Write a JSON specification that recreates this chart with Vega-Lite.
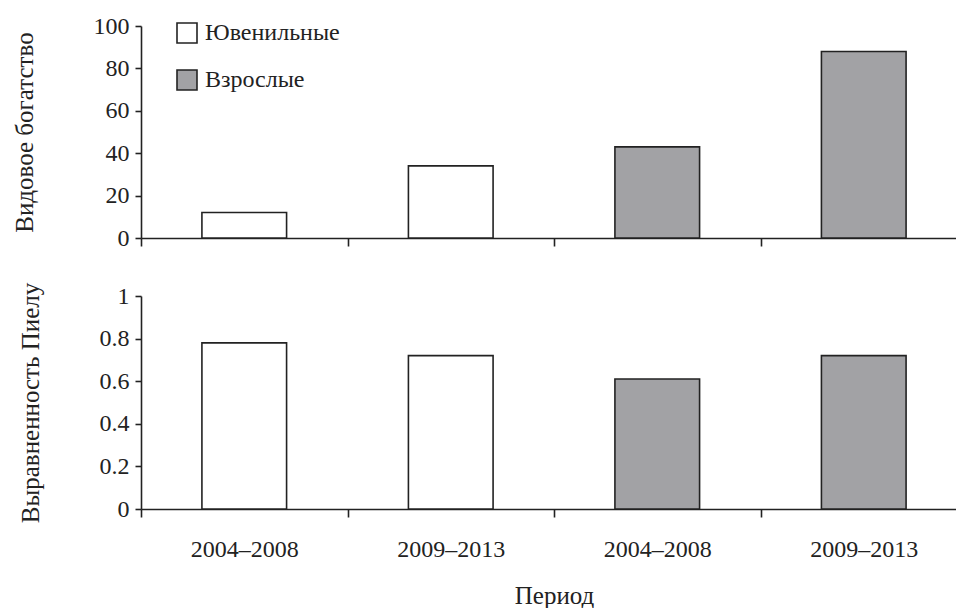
{
  "$schema": "https://vega.github.io/schema/vega-lite/v6.json",
  "background": "white",
  "padding": {"top": 14, "left": 12, "right": 0, "bottom": 0},
  "config": {
    "font": "Liberation Serif",
    "view": {"stroke": null},
    "axis": {
      "labelFont": "Liberation Serif",
      "titleFont": "Liberation Serif",
      "labelFontSize": 24,
      "titleFontSize": 25,
      "titleFontWeight": "normal",
      "labelColor": "#222",
      "titleColor": "#222",
      "domainColor": "#222",
      "tickColor": "#222",
      "domainWidth": 1.6,
      "tickWidth": 1.6,
      "grid": false
    },
    "legend": {
      "labelFont": "Liberation Serif",
      "labelFontSize": 24,
      "labelColor": "#222"
    }
  },
  "data": {
    "values": [
      {"cat": 1, "group": "Ювенильные", "richness": 12, "evenness": 0.78},
      {"cat": 2, "group": "Ювенильные", "richness": 34, "evenness": 0.72},
      {"cat": 3, "group": "Взрослые", "richness": 43, "evenness": 0.61},
      {"cat": 4, "group": "Взрослые", "richness": 88, "evenness": 0.72}
    ]
  },
  "spacing": 32,
  "vconcat": [
    {
      "width": 826,
      "height": 212,
      "mark": {"type": "bar", "stroke": "#222", "strokeWidth": 1.6, "width": {"band": 0.41}},
      "encoding": {
        "x": {
          "field": "cat", "type": "ordinal",
          "scale": {"paddingInner": 0, "paddingOuter": 0},
          "axis": {"title": null, "labels": false, "tickBand": "extent", "tickSize": 8}
        },
        "y": {
          "field": "richness", "type": "quantitative",
          "scale": {"domain": [0, 100]},
          "axis": {"title": "Видовое богатство", "values": [0, 20, 40, 60, 80, 100], "tickSize": 6, "labelPadding": 6, "titlePadding": 56}
        },
        "fill": {
          "field": "group", "type": "nominal",
          "scale": {"domain": ["Ювенильные", "Взрослые"], "range": ["white", "#a2a2a5"]},
          "legend": {
            "title": null,
            "orient": "none",
            "legendX": 34,
            "legendY": -5,
            "symbolType": "square",
            "symbolSize": 400,
            "symbolStrokeColor": "#222",
            "symbolStrokeWidth": 1.6,
            "rowPadding": 19,
            "labelOffset": 6
          }
        }
      }
    },
    {
      "width": 826,
      "height": 213,
      "mark": {"type": "bar", "stroke": "#222", "strokeWidth": 1.6, "width": {"band": 0.41}},
      "encoding": {
        "x": {
          "field": "cat", "type": "ordinal",
          "scale": {"paddingInner": 0, "paddingOuter": 0},
          "axis": {
            "title": "Период",
            "labelAngle": 0,
            "labelExpr": "datum.value == 1 || datum.value == 3 ? '2004–2008' : (datum.value == 2 || datum.value == 4 ? '2009–2013' : '')",
            "tickBand": "extent",
            "tickSize": 8,
            "labelPadding": 20,
            "titlePadding": 22
          }
        },
        "y": {
          "field": "evenness", "type": "quantitative",
          "scale": {"domain": [0, 1]},
          "axis": {"title": "Выравненность Пиелу", "values": [0, 0.2, 0.4, 0.6, 0.8, 1], "format": ".1~f", "tickSize": 6, "labelPadding": 6, "titlePadding": 56}
        },
        "fill": {
          "field": "group", "type": "nominal",
          "scale": {"domain": ["Ювенильные", "Взрослые"], "range": ["white", "#a2a2a5"]},
          "legend": null
        }
      }
    }
  ]
}
